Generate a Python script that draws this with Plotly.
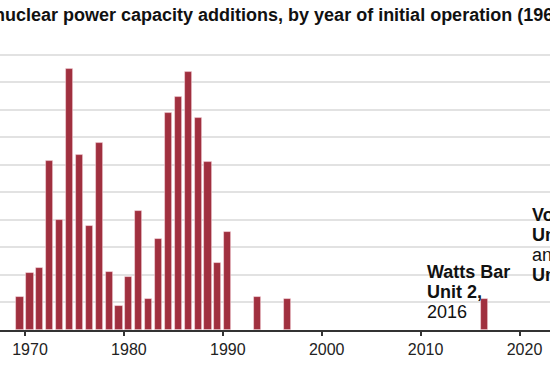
import plotly.graph_objects as go

# Data: capacity additions (gigawatts) by year of initial operation
years = [1969, 1970, 1971, 1972, 1973, 1974, 1975, 1976, 1977, 1978, 1979,
         1980, 1981, 1982, 1983, 1984, 1985, 1986, 1987, 1988, 1989, 1990,
         1993, 1996, 2016, 2023, 2024]
capacity_gw = [1.21, 2.06, 2.26, 6.13, 4.01, 9.47, 6.34, 3.77, 6.77, 2.10, 0.88,
               1.91, 4.33, 1.11, 3.29, 7.86, 8.46, 9.37, 7.71, 6.09, 2.44, 3.57,
               1.20, 1.11, 1.12, 1.11, 1.11]
tick_years = [1970, 1980, 1990, 2000, 2010, 2020]
title_text = "U.S. nuclear power capacity additions, by year of initial operation (1967–2024)"

BAR = "#A0303F"
W, H = 550, 374
L, T, B = 0, 40, 44
plot_h = H - T - B
axis_y = H - B
unit_px = 27.55

def px(xp):
    return xp / W

def py(yp):
    return (axis_y - yp) / plot_h

fig = go.Figure()
fig.add_trace(go.Bar(
    x=[y + 0.5 for y in years],   # centred on mid-year
    y=capacity_gw,
    width=0.72,
    marker=dict(color=BAR, line=dict(color="rgba(255,230,235,0.6)", width=0.8)),
    hoverinfo="x+y",
))

annots = []
annots.append(dict(text="<b>" + title_text + "</b>", xref="paper", yref="paper",
                   x=px(-48), y=py(15), xanchor="left", yanchor="middle",
                   showarrow=False, font=dict(size=18, color="#111")))
wb_lines = [("<b>Watts Bar</b>", 271.5), ("<b>Unit 2,</b>", 291.5), ("2016", 311.5)]
for txt, yy in wb_lines:
    annots.append(dict(text=txt, xref="paper", yref="paper", x=px(425), y=py(yy),
                       xanchor="left", yanchor="middle", showarrow=False,
                       font=dict(size=18, color="#111")))
vg_lines = [("<b>Vogtle</b>", 215), ("<b>Unit 3,</b> 2023", 235), ("and", 255), ("<b>Unit 4,</b> 2024", 275)]
for txt, yy in vg_lines:
    annots.append(dict(text=txt, xref="paper", yref="paper", x=px(529.5), y=py(yy),
                       xanchor="left", yanchor="middle", showarrow=False,
                       font=dict(size=18, color="#111")))

x0 = 1970 - 25 / 9.89
x1 = 1970 + (W - 25) / 9.89

fig.update_layout(
    width=W, height=H,
    margin=dict(l=L, r=0, t=T, b=B),
    paper_bgcolor="white", plot_bgcolor="white",
    font=dict(family="Liberation Sans, Arial, sans-serif", color="#222"),
    showlegend=False,
    annotations=annots,
    bargap=0,
    xaxis=dict(range=[x0, x1], tickvals=tick_years, ticktext=[str(t) for t in tick_years],
               ticks="outside", ticklen=4, tickwidth=1.5, tickcolor="#333",
               showline=True, linecolor="#333", linewidth=1.5,
               showgrid=False, zeroline=False, ticklabelshift=5,
               tickfont=dict(size=16, color="#222")),
    yaxis=dict(range=[0, plot_h / unit_px], tickvals=list(range(0, 11)),
               showgrid=True, gridcolor="#E2E2E2", gridwidth=2,
               showticklabels=False, zeroline=False, showline=False, ticks=""),
)

fig.write_html("out.html",
               config={"displayModeBar": False},
               post_script="document.body.style.margin='0px';document.body.style.overflow='hidden';")
